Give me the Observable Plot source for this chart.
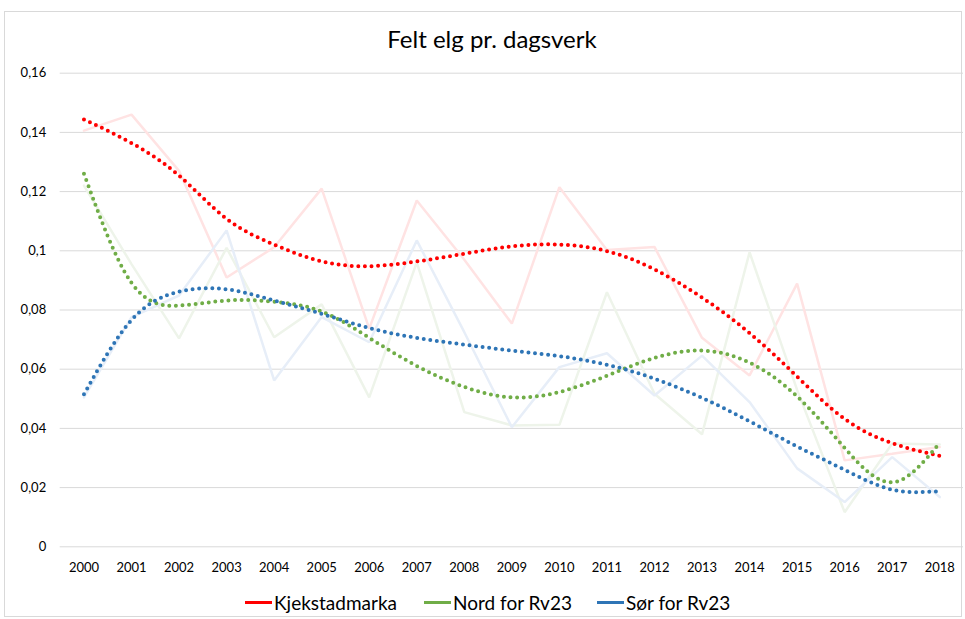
<!DOCTYPE html>
<html>
<head>
<meta charset="utf-8">
<script src="https://cdn.jsdelivr.net/npm/d3@7"></script>
<script src="https://cdn.jsdelivr.net/npm/@observablehq/plot@0.6"></script>
<style>
  html, body { margin: 0; padding: 0; background: #fff; }
  #wrap { position: relative; width: 965px; height: 619px; overflow: hidden; font-family: Lato, "Open Sans", sans-serif; }
  #border { position: absolute; left: 4px; top: 11px; width: 958px; height: 606px; border: 1px solid #d9d9d9; box-sizing: border-box; }
  #title { position: absolute; left: 0; top: 24px; width: 984px; text-align: center; font-size: 24px; color: #000; }
  #chart { position: absolute; left: 0; top: 60px; }
  #legend { position: absolute; left: 0; top: 590px; width: 965px; height: 24px; font-size: 19px; color: #000; }
  .item { position: absolute; top: 0; display: flex; align-items: center; height: 24px; }
  .sw { width: 27px; height: 3px; margin-right: 2px; }
</style>
</head>
<body>
<div id="wrap">
  <div id="border"></div>
  <div id="title">Felt elg pr. dagsverk</div>
  <div id="chart"></div>
  <div id="legend"></div>
</div>
<script>
// ---- data ----
const years = [2000,2001,2002,2003,2004,2005,2006,2007,2008,2009,2010,2011,2012,2013,2014,2015,2016,2017,2018];
const seriesNames = ["Kjekstadmarka", "Nord for Rv23", "Sør for Rv23"];
const seriesColors = ["#ff0000", "#70ad47", "#2e75b6"];
const rawColors = ["#ffe3e3", "#eef4ea", "#e7eef8"];

const kjekRaw = [0.1406,0.146,0.127,0.091,0.1012,0.121,0.0737,0.117,0.097,0.0754,0.1215,0.1003,0.1013,0.0706,0.0579,0.0889,0.0292,0.0314,0.0337];
const nordRaw = [0.122,0.0955,0.0704,0.101,0.0708,0.0819,0.0505,0.0961,0.0455,0.041,0.0412,0.086,0.0517,0.038,0.0995,0.053,0.0117,0.0349,0.0346];
const sorRaw  = [0.0505,0.0776,0.0849,0.1069,0.0562,0.0776,0.0691,0.1035,0.0725,0.0404,0.0607,0.0654,0.0511,0.0646,0.0489,0.0265,0.0151,0.0303,0.0168];

const kjekTrend = [0.1444,0.1364,0.1254,0.1108,0.1021,0.0964,0.0948,0.0964,0.099,0.1015,0.1021,0.0999,0.0937,0.0842,0.0722,0.0575,0.0432,0.035,0.0307];
const nordTrend = [0.126,0.0892,0.0815,0.0832,0.0828,0.0795,0.0706,0.0611,0.054,0.0505,0.0523,0.0578,0.0638,0.0663,0.0622,0.0508,0.0334,0.0218,0.0351];
const sorTrend  = [0.0515,0.0766,0.0862,0.087,0.0832,0.0787,0.0739,0.0706,0.0683,0.0663,0.0644,0.0615,0.0568,0.0503,0.0424,0.0339,0.026,0.0193,0.0188];

const yTicks = [0,0.02,0.04,0.06,0.08,0.1,0.12,0.14,0.16];

// ---- build tables ----
const raws = [kjekRaw, nordRaw, sorRaw];
const trends = [kjekTrend, nordTrend, sorTrend];
const rawData = [], trendData = [];
seriesNames.forEach((name, i) => {
  years.forEach((yr, j) => {
    rawData.push({series: name, year: yr, value: raws[i][j]});
    trendData.push({series: name, year: yr, value: trends[i][j]});
  });
});

const fmtY = d => d === 0 ? "0" : String(+d.toFixed(2)).replace(".", ",");

const marks = [
  Plot.ruleY(yTicks, {stroke: "#d9d9d9", strokeWidth: 1})
];
seriesNames.forEach((name, i) => {
  marks.push(Plot.line(rawData.filter(d => d.series === name), {
    x: "year", y: "value", stroke: rawColors[i], strokeWidth: 2.5, strokeLinejoin: "miter"
  }));
});
seriesNames.forEach((name, i) => {
  marks.push(Plot.line(trendData.filter(d => d.series === name), {
    x: "year", y: "value", stroke: seriesColors[i], strokeWidth: 4,
    strokeDasharray: "0,6.6", strokeLinecap: "round", curve: "natural"
  }));
});
marks.push(Plot.axisY({ticks: yTicks, tickFormat: fmtY, tickSize: 0, tickPadding: 14, fontSize: 13, color: "#000", label: null}));
marks.push(Plot.axisX({ticks: years, tickFormat: d => String(d), tickSize: 0, tickPadding: 16, fontSize: 13, color: "#000", label: null}));

const chart = Plot.plot({
  width: 965,
  height: 520,
  marginLeft: 59.7,
  marginRight: 2,
  marginTop: 12.7,
  marginBottom: 33.7,
  style: {fontFamily: "Lato, 'Open Sans', sans-serif", background: "transparent", color: "#000"},
  x: {type: "linear", domain: [1999.5, 2018.5], label: null},
  y: {domain: [0, 0.16], label: null},
  marks
});
document.getElementById("chart").appendChild(chart);

// ---- legend ----
const legend = document.getElementById("legend");
const lefts = [245, 424, 597];
seriesNames.forEach((name, i) => {
  const it = document.createElement("div");
  it.className = "item";
  it.style.left = lefts[i] + "px";
  const sw = document.createElement("span");
  sw.className = "sw";
  sw.style.background = seriesColors[i];
  const tx = document.createElement("span");
  tx.textContent = name;
  it.appendChild(sw); it.appendChild(tx);
  legend.appendChild(it);
});
</script>
</body>
</html>
